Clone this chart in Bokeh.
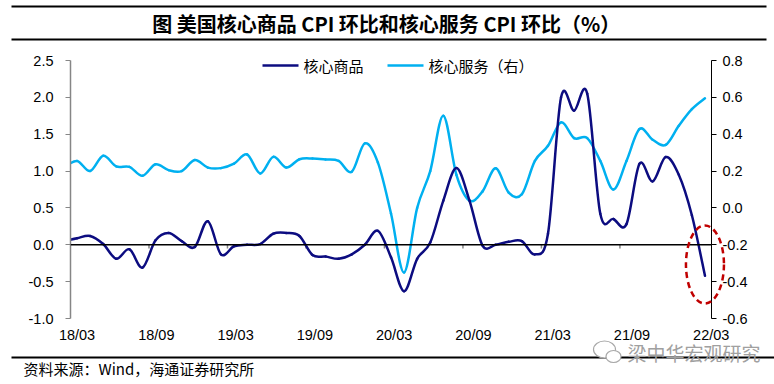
import numpy as np
from bokeh.plotting import figure
from bokeh.models import (Range1d, LinearAxis, FixedTicker, NumeralTickFormatter,
                          CustomJSTickFormatter, Span)
from bokeh.core.properties import value
from bokeh.embed import file_html
from bokeh.resources import INLINE

# ---------------- data (monthly, index 0 = 2018/03, index -1 = 2018/02) -------------
months = list(range(-1, 49))
core_goods = [0.05, 0.09, 0.12, 0.01, -0.19, -0.06, -0.31, 0.06, 0.16, 0.05,
              -0.03, 0.32, -0.13, -0.02, 0.00, 0.01, 0.15, 0.16, 0.12, -0.14,
              -0.16, -0.19, -0.13, 0.00, 0.19, -0.17, -0.63, -0.19, 0.03, 0.60,
              1.04, 0.60, -0.01, 0.00, 0.04, 0.05, -0.13, 0.15, 2.00, 1.82,
              2.05, 0.42, 0.35, 0.28, 1.10, 0.86, 1.19, 0.95, 0.40, -0.42]
core_services = [0.22, 0.255, 0.20, 0.283, 0.225, 0.223, 0.174, 0.237, 0.205, 0.20,
                 0.26, 0.219, 0.216, 0.24, 0.29, 0.187, 0.277, 0.219, 0.264, 0.268,
                 0.263, 0.255, 0.196, 0.35, 0.246, -0.03, -0.35, 0.0, 0.20, 0.50,
                 0.18, 0.04, 0.09, 0.215, 0.083, 0.074, 0.255, 0.337, 0.464, 0.379,
                 0.379, 0.255, 0.10, 0.255, 0.428, 0.37, 0.342, 0.446, 0.536, 0.595]
series_names = ["核心商品", "核心服务（右）"]
tick_months = [0, 6, 12, 18, 24, 30, 36, 42, 48]
tick_labels = ["18/03", "18/09", "19/03", "19/09", "20/03", "20/09", "21/03", "21/09", "22/03"]
left_ticks = [-1.0, -0.5, 0.0, 0.5, 1.0, 1.5, 2.0, 2.5]
right_ticks = [-0.6, -0.4, -0.2, 0.0, 0.2, 0.4, 0.6, 0.8]

DARK = "#0C0C80"
LIGHT = "#00B0F0"
CJK = "Noto Sans CJK SC"

# ---------------- layout ----------------
W, H = 774, 384
ML, MR, MT, MB = 70, 63, 60, 66
FW, FH = W - ML - MR, H - MT - MB
X0, X1 = -0.5, 48.5
Y0, Y1 = -1.0, 2.5


def wx(px):  # page pixel -> x data
    return X0 + (px - ML) / FW * (X1 - X0)


def wy(py):  # page pixel -> left y data
    return Y1 - (py - MT) / FH * (Y1 - Y0)


p = figure(width=W, height=H, x_range=Range1d(X0, X1), y_range=Range1d(Y0, Y1),
           output_backend="svg", toolbar_location=None,
           min_border_left=ML, min_border_right=MR, min_border_top=MT, min_border_bottom=MB)
p.extra_y_ranges = {"right": Range1d(-0.6, 0.8)}
p.outline_line_color = None
p.xgrid.visible = False
p.ygrid.visible = False
p.background_fill_color = "white"
p.border_fill_color = "white"

# left axis
ya = p.yaxis[0]
ya.ticker = FixedTicker(ticks=left_ticks)
ya.formatter = NumeralTickFormatter(format="0.0")
ya.axis_line_color = "#868686"
ya.axis_line_width = 1.5
ya.major_tick_line_color = "#868686"
ya.major_tick_in = 0
ya.major_tick_out = 5
ya.minor_tick_line_color = None
ya.major_label_text_font = "Liberation Sans"
ya.major_label_text_font_size = "14.5px"
ya.major_label_text_color = "black"
ya.major_label_standoff = 12

# right axis
ra = LinearAxis(y_range_name="right", ticker=FixedTicker(ticks=right_ticks),
                formatter=NumeralTickFormatter(format="0.0"))
ra.axis_line_color = "black"
ra.major_tick_line_color = "black"
ra.major_tick_in = 0
ra.major_tick_out = 5
ra.minor_tick_line_color = None
ra.major_label_text_font = "Liberation Sans"
ra.major_label_text_font_size = "14.5px"
ra.major_label_text_color = "black"
ra.major_label_standoff = 6
p.add_layout(ra, "right")

# bottom axis (labels only)
xa = p.xaxis[0]
xa.ticker = FixedTicker(ticks=[m * 1.01 for m in tick_months])
xa.formatter = CustomJSTickFormatter(args=dict(labels=tick_labels), code="return labels[index];")
xa.axis_line_color = None
xa.major_tick_line_color = None
xa.minor_tick_line_color = None
xa.major_tick_in = 0
xa.major_tick_out = 0
xa.major_label_text_font = "Liberation Sans"
xa.major_label_text_font_size = "14.5px"
xa.major_label_text_color = "black"
xa.major_label_standoff = 8

# zero line and its small category ticks
p.add_layout(Span(location=0, dimension="width", line_color="black", line_width=1.5))
bounds = [m - 0.5 for m in tick_months[1:-1]]
p.segment(x0=bounds, y0=[0] * len(bounds), x1=bounds, y1=[-0.05] * len(bounds),
          line_color="#868686", line_width=1.5)


# smoothed curves (Catmull-Rom style Bezier segments through the monthly values)
def bezier_parts(xs, ys, t=1 / 6):
    n = len(xs)
    out = dict(x0=[], y0=[], x1=[], y1=[], cx0=[], cy0=[], cx1=[], cy1=[])
    for i in range(n - 1):
        xa_, ya_ = xs[i], ys[i]
        xb_, yb_ = xs[i + 1], ys[i + 1]
        xp, yp = (xs[i - 1], ys[i - 1]) if i > 0 else (xa_, ya_)
        xn, yn = (xs[i + 2], ys[i + 2]) if i + 2 < n else (xb_, yb_)
        out["x0"].append(xa_); out["y0"].append(ya_)
        out["x1"].append(xb_); out["y1"].append(yb_)
        out["cx0"].append(xa_ + (xb_ - xp) * t); out["cy0"].append(ya_ + (yb_ - yp) * t)
        out["cx1"].append(xb_ - (xn - xa_) * t); out["cy1"].append(yb_ - (yn - ya_) * t)
    return out


p.bezier(**bezier_parts(months, core_services), line_color=LIGHT, line_width=2.5,
         line_cap="round", y_range_name="right")
p.bezier(**bezier_parts(months, core_goods), line_color=DARK, line_width=2.5,
         line_cap="round")

# legend drawn at overlay level (so the labels are not clipped by the frame)
leg_y = wy(65)
p.segment(x0=[wx(262), wx(387)], y0=[leg_y, leg_y], x1=[wx(298), wx(423)], y1=[leg_y, leg_y],
          line_color=[DARK, LIGHT], line_width=2.5, level="overlay")
p.text(x=[wx(303), wx(428)], y=[leg_y, leg_y], text=series_names,
       text_align="left", text_baseline="middle", text_font=value(CJK),
       text_font_size="15px", text_color="black", level="overlay")

# red dashed ellipse around the latest value (overlay level: not clipped to frame)
p.ellipse(x=[months[-1]], y=[wy(264)], width=38, height=78,
          width_units="screen", height_units="screen",
          fill_color=None, line_color="#C00000", line_width=2.5, line_dash="6 4",
          level="overlay")

# header / footer rules
rule_y = [6, 39, 357]
p.segment(x0=[wx(11)] * 3, y0=[wy(v) for v in rule_y],
          x1=[wx(766), wx(766), wx(774)], y1=[wy(v) for v in rule_y],
          line_color="black", line_width=1.8, level="overlay")

# watermark icon (two speech bubbles)
p.ellipse(x=[wx(604), wx(613)], y=[wy(349), wy(356)], width=[22, 15], height=[17, 12],
          width_units="screen", height_units="screen",
          fill_color="white", line_color="#a8a8a8", line_width=1.2, level="overlay")

# texts
p.text(x=[wx(388)], y=[wy(23)], text=["图  美国核心商品 CPI 环比和核心服务 CPI 环比（%）"],
       text_align="center", text_baseline="middle", text_font=value(CJK),
       text_font_style="bold", text_font_size="20px", text_color="black", level="overlay")
p.text(x=[wx(23)], y=[wy(368)], text=["资料来源：Wind，海通证券研究所"],
       text_align="left", text_baseline="middle", text_font=value(CJK),
       text_font_size="15px", text_color="black", level="overlay")
p.text(x=[wx(627)], y=[wy(352)], text=["梁中华宏观研究"],
       text_align="left", text_baseline="middle", text_font=value(CJK),
       text_font_size="19px", text_color="#a0a0a0", level="overlay")

open("out.html", "w").write(file_html(p, INLINE))
